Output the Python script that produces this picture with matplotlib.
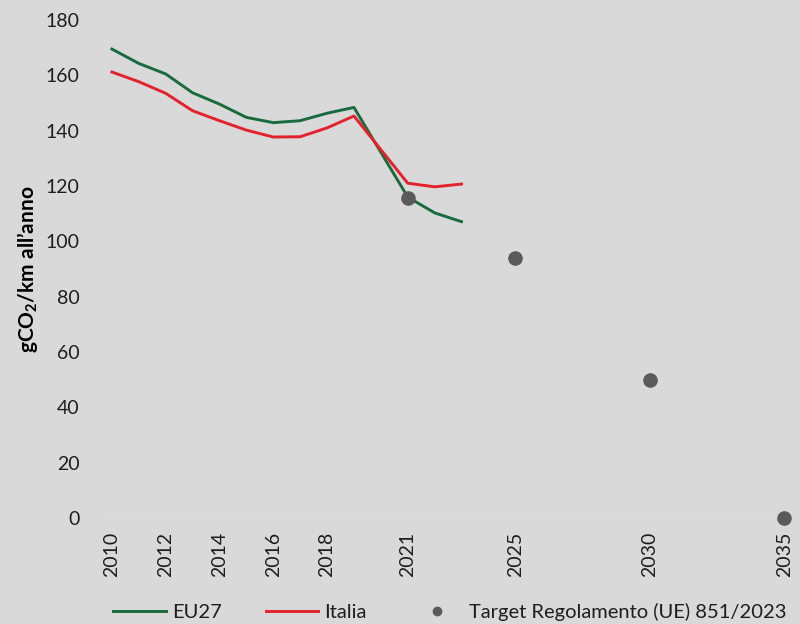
import matplotlib
matplotlib.use("Agg")
import matplotlib.pyplot as plt
from matplotlib.lines import Line2D

# data (gCO2/km, new cars)
YEARS = [2010, 2011, 2012, 2013, 2014, 2015, 2016, 2017, 2018, 2019, 2021, 2022, 2023]
EU27 = [169.5, 164.3, 160.5, 153.7, 149.6, 144.8, 142.9, 143.6, 146.3, 148.4, 116.0, 110.3, 107.1]
ITALIA = [161.2, 157.7, 153.5, 147.2, 143.6, 140.2, 137.7, 137.8, 141.0, 145.3, 121.0, 119.7, 120.7]
TARGET_YEARS = [2021, 2025, 2030, 2035]
TARGET = [115.5, 94.0, 49.9, 0.0]
XTICKS = [2010, 2012, 2014, 2016, 2018, 2021, 2025, 2030, 2035]

BG, INK = "#d9d9d9", "#1e1e1e"
GREEN, RED, DOT = "#186b3c", "#e3232b", "#5a5a5a"

plt.rcParams["font.family"] = ["Lato", "DejaVu Sans"]
plt.rcParams["mathtext.fontset"] = "custom"
plt.rcParams["mathtext.rm"] = "Lato"
plt.rcParams["mathtext.bf"] = "Lato:bold"

fig = plt.figure(figsize=(8, 6.24), dpi=100, facecolor=BG)
ax = fig.add_axes([99 / 800, 1 - 518 / 624, 696 / 800, 498 / 624], facecolor=BG)

ax.plot(YEARS, EU27, color=GREEN, lw=2.1, label="EU27", zorder=3)
ax.plot(YEARS, ITALIA, color=RED, lw=2.1, label="Italia", zorder=3)
ax.scatter(TARGET_YEARS, TARGET, s=90, color=DOT, zorder=4, clip_on=False,
           label="Target Regolamento (UE) 851/2023")

ax.set_xlim(2009.52, 2035.4)
ax.set_ylim(0, 180)
ax.set_yticks(range(0, 181, 20))
ax.set_xticks(XTICKS)
ax.set_xticklabels([str(y) for y in XTICKS], rotation=90)
ax.tick_params(axis="both", length=0, labelsize=14, colors=INK)
ax.tick_params(axis="y", pad=14)
ax.tick_params(axis="x", pad=10)
for s in ax.spines.values():
    s.set_visible(False)
ax.axhline(0, color="#e4e4e4", lw=1.0, zorder=1)

ax.set_ylabel(r"gCO$_{\mathbf{2}}$/km all’anno", fontsize=15, fontweight="bold",
              color="black", labelpad=4)

handles = [Line2D([], [], color=GREEN, lw=2.1),
           Line2D([], [], color=RED, lw=2.1),
           Line2D([], [], color=DOT, marker="o", ls="none", markersize=6)]
fig.legend(handles, ["EU27", "Italia", "Target Regolamento (UE) 851/2023"],
           loc="center", bbox_to_anchor=(0.5625, 1 - 612 / 624), ncol=3, frameon=False,
           fontsize=14.5, handlelength=2.6, columnspacing=2.2, handletextpad=0.3,
           labelcolor=INK, borderpad=0)

fig.savefig("out.png", dpi=100, facecolor=BG)
